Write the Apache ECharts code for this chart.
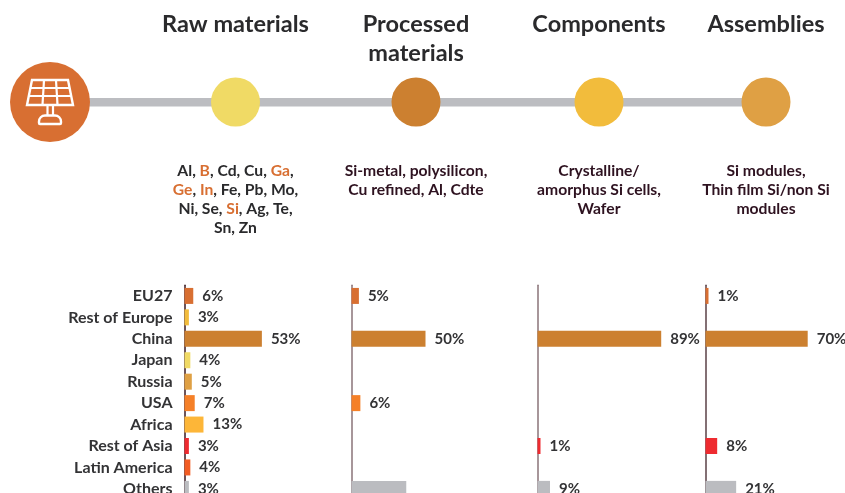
<!DOCTYPE html>
<html>
<head>
<meta charset="utf-8">
<style>
  html, body { margin: 0; background: #fff; overflow: hidden; }
  #main { width: 845px; height: 493px; }
</style>
<script src="https://cdn.jsdelivr.net/npm/echarts@6/dist/echarts.min.js"></script>
</head>
<body>
<div id="main"></div>
<script>
const regions = ['EU27', 'Rest of Europe', 'China', 'Japan', 'Russia', 'USA', 'Africa', 'Rest of Asia', 'Latin America', 'Others']
const regionColors = ['#D86F32', '#F2BC3C', '#CC8030', '#F0DA65', '#DFA044', '#F58028', '#FDB638', '#EE2B30', '#F25C23', '#BBBCC0']

const rawValues = [6, 3, 53, 4, 5, 7, 13, 3, 4, 3]
const processedValues = [5, null, 50, null, null, 6, null, null, null, 37]
const componentValues = [null, null, 89, null, null, null, null, 1, null, 9]
const assemblyValues = [1, null, 70, null, null, null, null, 8, null, 21]

// the Others bar of processed materials has no label in the source
const processedHiddenLabels = ['Others']

const stageTitles = [['Raw materials'], ['Processed', 'materials'], ['Components'], ['Assemblies']]
const stageColors = ['#F0DA65', '#CC8030', '#F2BC3C', '#DFA044']
const stageDetails = [
  ['Al, {o|B}, Cd, Cu, {o|Ga},', '{o|Ge}, {o|In}, Fe, Pb, Mo,', 'Ni, Se, {o|Si}, Ag, Te,', 'Sn, Zn'],
  ['Si-metal, polysilicon,', 'Cu refined, Al, Cdte'],
  ['Crystalline/', 'amorphus Si cells,', 'Wafer'],
  ['Si modules,', 'Thin film Si/non Si', 'modules']
]

const FONT = 'Lato, sans-serif'
const stageX = [235.5, 416, 599, 766]
const panels = [
  { values: rawValues, left: 184.5, width: 146, axisColor: '#3A1A22' },
  { values: processedValues, left: 351.5, width: 148, axisColor: '#8A7378', hidden: processedHiddenLabels },
  { values: componentValues, left: 537.5, width: 139, axisColor: '#8A7378' },
  { values: assemblyValues, left: 705.5, width: 146, axisColor: '#5A4046' }
]

const iconColor = '#fff'
function iconLine(x1, y1, x2, y2) {
  return {
    type: 'line',
    shape: { x1, y1, x2, y2 },
    style: { stroke: iconColor, lineWidth: 2.2 },
    z: 12
  }
}

const graphics = [
  {
    type: 'rect',
    shape: { x: 50, y: 98, width: 716, height: 8.5 },
    style: { fill: '#BCBDC1' },
    z: 5
  },
  {
    type: 'circle',
    shape: { cx: 50, cy: 102, r: 40 },
    style: { fill: '#D86F32' },
    z: 10
  },
  // solar panel icon
  {
    type: 'polygon',
    shape: { points: [[32, 80], [68, 80], [73, 105], [27, 105]] },
    style: { fill: 'none', stroke: iconColor, lineWidth: 2.4 },
    z: 12
  },
  iconLine(30.3, 88, 69.7, 88),
  iconLine(28.8, 96, 71.2, 96),
  iconLine(44, 80, 42.5, 105),
  iconLine(56, 80, 57.5, 105),
  iconLine(47.5, 105, 47.5, 115),
  iconLine(53, 105, 53, 115),
  {
    type: 'rect',
    shape: { x: 39, y: 115.5, width: 22, height: 8.5, r: [6, 6, 1, 1] },
    style: { fill: 'none', stroke: iconColor, lineWidth: 2.4 },
    z: 12
  }
]

stageX.forEach((x, i) => {
  graphics.push({
    type: 'circle',
    shape: { cx: x, cy: 102, r: 24.5 },
    style: { fill: stageColors[i] },
    z: 10
  })
  stageTitles[i].forEach((line, j) => {
    graphics.push({
      type: 'text',
      x,
      y: 24 + j * 29,
      style: {
        text: line,
        font: '700 23.5px ' + FONT,
        fill: '#2A2A2C',
        align: 'center',
        verticalAlign: 'middle'
      },
      z: 10
    })
  })
  stageDetails[i].forEach((line, j) => {
    graphics.push({
      type: 'text',
      x,
      y: 171 + j * 19,
      style: {
        text: line,
        font: '700 15.7px ' + FONT,
        fill: i === 0 ? '#2A2A2C' : '#2E1220',
        align: 'center',
        verticalAlign: 'middle',
        rich: {
          o: { font: '700 15.7px ' + FONT, fill: '#D86F32' }
        }
      },
      z: 10
    })
  })
})

const option = {
  animation: false,
  backgroundColor: '#fff',
  textStyle: { fontFamily: FONT },
  grid: panels.map(p => ({ left: p.left, width: p.width, top: 285.2, height: 214.4, outerBoundsMode: 'none' })),
  xAxis: panels.map((p, i) => ({ type: 'value', gridIndex: i, min: 0, max: 100, show: false })),
  yAxis: panels.map((p, i) => ({
    type: 'category',
    gridIndex: i,
    data: regions,
    inverse: true,
    axisTick: { show: false },
    axisLine: { show: true, lineStyle: { color: p.axisColor, width: 1.5 } },
    axisLabel: i === 0 ? {
      show: true,
      margin: 12,
      fontFamily: FONT,
      fontWeight: 700,
      fontSize: 16,
      color: '#333335',
      interval: 0
    } : { show: false }
  })),
  series: panels.map((p, i) => ({
    type: 'bar',
    xAxisIndex: i,
    yAxisIndex: i,
    barWidth: 16,
    barMinHeight: 3,
    data: p.values.map((v, k) => ({ value: v, itemStyle: { color: regionColors[k] } })),
    label: {
      show: true,
      position: 'right',
      distance: 9,
      fontFamily: FONT,
      fontWeight: 700,
      fontSize: 15,
      color: '#333335',
      formatter: item => {
        if (item.value == null) return ''
        if (p.hidden && p.hidden.includes(item.name)) return ''
        return item.value + '%'
      }
    }
  })),
  graphic: graphics
}

const chart = echarts.init(document.getElementById('main'), null, { renderer: 'canvas' })
chart.setOption(option)
</script>
</body>
</html>
